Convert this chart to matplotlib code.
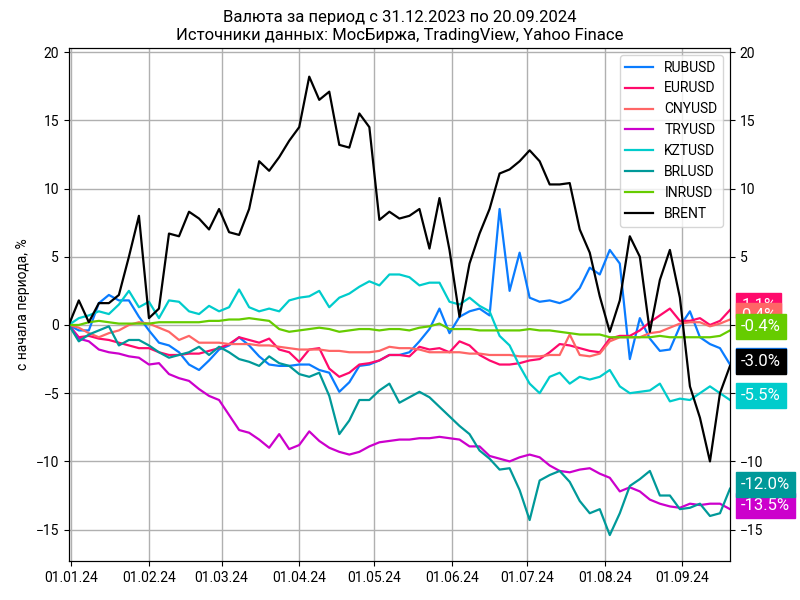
import numpy as np
import pandas as pd
import matplotlib
matplotlib.use("Agg")
import matplotlib.pyplot as plt
import matplotlib.dates as mdates
import matplotlib.transforms as mtransforms

plt.rcParams['font.family'] = ['Roboto', 'DejaVu Sans']

# sample dates every 4 days from 31.12.2023 to 20.09.2024
dates = pd.date_range("2023-12-31", "2024-09-20", freq="4D")

rub = [0, -0.4, -0.4, 1.6, 2.2, 1.8, 1.8, 0.6, -0.4, -1.3,
       -1.5, -2.0, -2.9, -3.3, -2.6, -1.8, -1.5, -0.9, -1.5, -2.3,
       -2.9, -3.0, -3.0, -2.9, -2.9, -3.3, -3.5, -4.9, -4.2, -3.0,
       -2.9, -2.6, -2.2, -2.2, -2.0, -1.2, -0.3, 1.2, -0.6, 0.6,
       1.0, 1.2, 0.7, 8.5, 2.5, 5.3, 2.0, 1.7, 1.8, 1.6,
       1.9, 2.7, 4.2, 3.7, 5.5, 4.5, -2.5, 0.5, -1.0, -1.9,
       -1.8, -0.1, 1.0, -0.9, -1.4, -1.7, -2.9]
eur = [0, -0.9, -0.8, -1.0, -1.1, -1.3, -1.5, -1.7, -1.7, -2.0,
       -2.2, -2.2, -2.1, -2.1, -1.9, -1.7, -1.4, -0.9, -1.1, -1.3,
       -1.0, -1.8, -2.0, -2.7, -1.8, -1.7, -3.2, -3.8, -3.5, -2.9,
       -2.8, -2.6, -2.2, -2.2, -2.3, -1.6, -1.8, -1.7, -2.0, -1.2,
       -1.5, -2.2, -2.6, -2.9, -2.9, -2.8, -2.6, -2.5, -2.0, -1.4,
       -1.5, -1.7, -1.9, -2.0, -1.0, -0.8, -0.8, -0.4, 0.2, 0.7,
       1.2, 0.3, 0.3, 0.5, 0.0, 0.3, 1.1]
cny = [0, -0.2, -0.6, -0.9, -0.6, -0.4, 0.0, 0.2, 0.1, -0.2,
       -0.5, -1.1, -0.8, -1.3, -1.3, -1.3, -1.4, -1.4, -1.4, -1.5,
       -1.5, -1.6, -1.7, -1.8, -1.8, -1.8, -1.9, -1.9, -2.0, -2.0,
       -2.0, -1.9, -1.6, -1.7, -1.7, -1.8, -2.0, -2.0, -2.0, -2.0,
       -2.1, -2.1, -2.2, -2.2, -2.2, -2.3, -2.3, -2.3, -2.2, -2.2,
       -0.7, -2.2, -2.3, -2.1, -1.2, -0.9, -0.9, -0.9, -0.6, -0.5,
       -0.2, 0.1, 0.2, 0.2, -0.1, 0.1, 0.4]
tryusd = [0, -1.0, -1.2, -1.8, -2.0, -2.1, -2.3, -2.4, -2.9, -2.8,
          -3.6, -3.9, -4.1, -4.7, -5.2, -5.5, -6.6, -7.7, -7.9, -8.4,
          -9.0, -8.0, -9.1, -8.8, -7.8, -8.5, -9.0, -9.3, -9.5, -9.3,
          -8.9, -8.6, -8.5, -8.4, -8.4, -8.3, -8.3, -8.2, -8.3, -8.4,
          -8.9, -8.9, -9.6, -9.8, -10.0, -9.7, -9.5, -9.7, -10.3, -10.7,
          -10.8, -10.6, -10.5, -10.9, -11.2, -12.2, -11.9, -12.2, -12.8, -13.1,
          -13.3, -13.4, -13.1, -13.2, -13.1, -13.1, -13.5]
kzt = [0, 0.5, 0.7, 1.0, 0.8, 1.5, 2.5, 1.3, 1.7, 0.5,
       1.8, 1.7, 1.0, 0.8, 1.4, 1.0, 1.3, 2.6, 1.3, 1.0,
       1.2, 1.0, 1.8, 2.0, 2.1, 2.5, 1.3, 2.0, 2.3, 2.8,
       3.2, 2.9, 3.7, 3.7, 3.5, 2.9, 3.1, 3.1, 1.7, 1.5,
       2.0, 1.4, 1.0, -0.8, -1.5, -3.0, -4.3, -5.0, -3.8, -3.5,
       -4.3, -3.8, -4.0, -3.8, -3.3, -4.5, -5.0, -4.9, -4.8, -4.3,
       -5.6, -5.4, -5.5, -5.0, -4.5, -5.0, -5.5]
brl = [0, -1.2, -0.7, -0.4, -0.1, -1.5, -1.1, -1.1, -1.5, -2.0,
       -2.4, -2.2, -2.0, -1.6, -2.2, -1.6, -2.0, -2.5, -2.7, -3.0,
       -2.3, -2.8, -3.0, -3.6, -3.8, -3.5, -5.2, -8.0, -7.0, -5.5,
       -5.5, -4.8, -4.3, -5.7, -5.3, -4.9, -5.3, -6.0, -6.7, -7.4,
       -8.0, -9.2, -9.8, -10.6, -10.5, -12.1, -14.3, -11.4, -11.0, -10.7,
       -11.5, -12.9, -13.8, -13.5, -15.4, -13.8, -11.8, -11.3, -10.7, -12.5,
       -12.5, -13.5, -13.4, -13.1, -14.0, -13.8, -12.0]
inr = [0, 0.0, 0.2, 0.3, 0.2, 0.1, 0.1, 0.1, 0.1, 0.2,
       0.2, 0.2, 0.2, 0.2, 0.3, 0.3, 0.4, 0.4, 0.5, 0.4,
       0.3, -0.3, -0.5, -0.4, -0.3, -0.2, -0.3, -0.5, -0.4, -0.3,
       -0.3, -0.4, -0.3, -0.3, -0.4, -0.2, -0.1, 0.1, -0.3, -0.3,
       -0.3, -0.4, -0.4, -0.4, -0.4, -0.4, -0.3, -0.4, -0.4, -0.5,
       -0.6, -0.7, -0.7, -0.7, -0.9, -0.9, -0.9, -0.9, -0.9, -0.8,
       -0.9, -0.9, -0.9, -0.9, -0.9, -0.8, -0.4]
brent = [0, 1.8, 0.2, 1.6, 1.6, 2.2, 5.0, 8.0, 0.5, 1.2,
         6.7, 6.5, 8.3, 7.8, 7.0, 8.5, 6.8, 6.6, 8.5, 12.0,
         11.3, 12.3, 13.5, 14.5, 18.2, 16.5, 17.1, 13.2, 13.0, 15.5,
         14.5, 7.7, 8.3, 7.8, 8.0, 8.5, 5.6, 9.3, 5.5, 0.6,
         4.5, 6.7, 8.5, 11.1, 11.4, 12.0, 12.8, 12.0, 10.3, 10.3,
         10.4, 7.0, 5.3, 2.1, -0.5, 1.8, 6.5, 5.0, -0.5, 3.3,
         5.5, 2.0, -4.5, -6.8, -10.0, -5.0, -3.0]

names = ["RUBUSD", "EURUSD", "CNYUSD", "TRYUSD", "KZTUSD", "BRLUSD", "INRUSD", "BRENT"]
series = [rub, eur, cny, tryusd, kzt, brl, inr, brent]
colors = ["#0a7cff", "#ff0a6c", "#ff6666", "#cc00cc", "#00cccc", "#009999", "#66cc00", "black"]

fig = plt.figure(figsize=(8, 6), dpi=100)
ax = fig.add_axes([0.086, 0.065, 0.8265, 0.855])
ax2 = ax.twinx()

for name, vals, c in zip(names, series, colors):
    ax.plot(dates, vals, color=c, linewidth=1.6, label=name)

ylim = (-17.3, 20.3)
ax.set_ylim(ylim)
ax2.set_ylim(ylim)
ax.set_yticks(range(-15, 21, 5))
ax2.set_yticks(range(-15, 21, 5))
ax.set_xlim(dates[0], dates[-1])
ax.xaxis.set_major_locator(mdates.MonthLocator())
ax.xaxis.set_major_formatter(mdates.DateFormatter('%d.%m.%y'))
ax.tick_params(labelsize=10)
ax2.tick_params(labelsize=10)
ax.grid(True, color='#b0b0b0', linewidth=1)

ax.set_ylabel("с начала периода, %", fontsize=10)
ax.set_title("Валюта за период с 31.12.2023 по 20.09.2024\n"
             "Источники данных: МосБиржа, TradingView, Yahoo Finace", fontsize=12)
ax.legend(loc='upper right', fontsize=10)

# last value labels to the right of the plot, drawn on top of the right ticks
trans = mtransforms.blended_transform_factory(ax2.transAxes, ax2.transData)
for vals, c in zip(series, colors):
    v = vals[-1]
    ax2.text(1.017, v + 0.3, f"{v:.1f}%", transform=trans, color='white', fontsize=12,
             va='center', ha='left', clip_on=False, zorder=10,
             bbox=dict(boxstyle='square,pad=0.3', fc=c, ec=c))

plt.savefig("out.png", dpi=100)
